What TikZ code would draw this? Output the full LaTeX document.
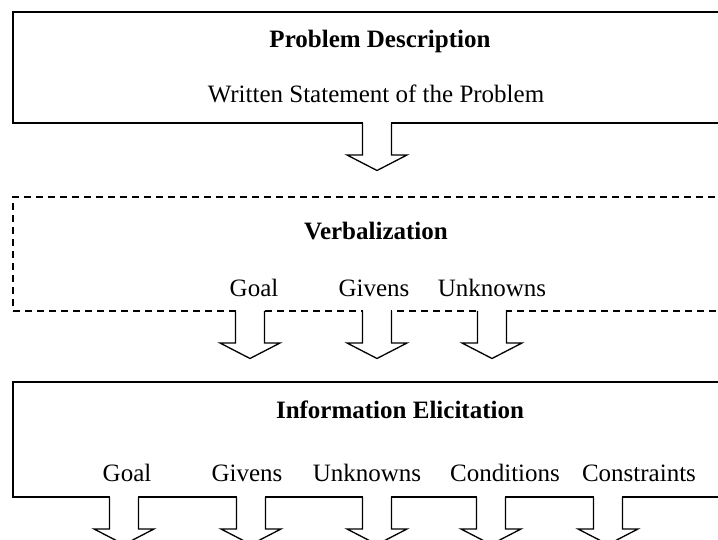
\documentclass[tikz,border=0pt]{standalone}
\usepackage{fontspec}
\setmainfont{Liberation Serif}
\begin{document}
\begin{tikzpicture}[x=1pt,y=-1pt,
  frame/.style={draw=black, line width=1.4pt, inner sep=0pt, outer sep=0pt, anchor=north west},
  dframe/.style={draw=black, line width=1.2pt, dash pattern=on 7pt off 5pt, inner sep=0pt, outer sep=0pt, anchor=north west},
  title/.style={font=\fontsize{25}{30}\selectfont\bfseries, anchor=base, inner sep=0pt},
  label/.style={font=\fontsize{25}{30}\selectfont, anchor=base, inner sep=0pt},
  downarrow/.pic={
    \fill[white] (-13.8,-2) rectangle (13.8,2);
    \draw[line width=1.3pt, line join=miter]
      (-14.5,0) -- (-14.5,32) -- (-30,32) -- (0,47.5) -- (30,32) -- (14.5,32) -- (14.5,0);
  }
]
\useasboundingbox (0,0) rectangle (718,540);
\clip (0,0) rectangle (718,540);
\fill[white] (0,0) rectangle (718,540);

% stage boxes
\node[frame,  minimum width=726pt, minimum height=111pt] (desc) at (13,12) {};
\node[dframe, minimum width=726pt, minimum height=114pt] (verb) at (13,197) {};
\node[frame,  minimum width=726pt, minimum height=115pt] (info) at (13,382) {};

% stage 1
\node[title] (t1) at (380,48) {Problem Description};
\node[label] (s1) at (376,103) {Written Statement of the Problem};

% stage 2
\node[title] (t2) at (376,240) {Verbalization};
\node[label] (v1) at (254,297) {Goal};
\node[label] (v2) at (374,297) {Givens};
\node[label] (v3) at (492,297) {Unknowns};

% stage 3
\node[title] (t3) at (400,418) {Information Elicitation};
\node[label] (i1) at (127,481) {Goal};
\node[label] (i2) at (247,481) {Givens};
\node[label] (i3) at (367,481) {Unknowns};
\node[label] (i4) at (505,481) {Conditions};
\node[label] (i5) at (639,481) {Constraints};

% arrow columns
\coordinate (a0) at (377,0);
\coordinate (b1) at (250,0);
\coordinate (b2) at (377,0);
\coordinate (b3) at (492,0);
\coordinate (c1) at (124,0);
\coordinate (c2) at (251,0);
\coordinate (c3) at (377,0);
\coordinate (c4) at (491,0);
\coordinate (c5) at (608,0);

% arrows leaving each box
\pic at (desc.south -| a0) {downarrow};
\foreach \k in {b1,b2,b3} \pic at (verb.south -| \k) {downarrow};
\foreach \k in {c1,c2,c3,c4,c5} \pic at (info.south -| \k) {downarrow};
\end{tikzpicture}
\end{document}
